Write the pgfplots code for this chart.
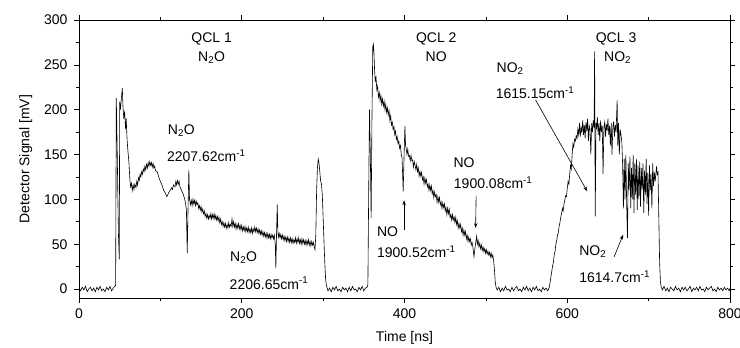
\documentclass[border=0pt]{standalone}
\usepackage{pgfplots}
\pgfplotsset{compat=1.18}
\usepackage{fontspec}
\setmainfont{Liberation Sans}
\usetikzlibrary{arrows.meta}
\begin{document}
\begin{tikzpicture}[font=\fontsize{14}{16}\selectfont]
\begin{axis}[name=ax,
  width=651pt, height=278pt, scale only axis,
  xmin=0, xmax=800, ymin=-10, ymax=300,
  xtick={0,200,400,600,800}, minor xtick={100,300,500,700},
  ytick={0,50,100,150,200,250,300}, minor ytick={25,75,125,175,225,275},
  tick align=outside, major tick length=5pt, minor tick length=3pt,
  tick style={black, line width=0.6pt},
  axis line style={line width=0.7pt},
  /pgf/number format/assume math mode=true,
  scaled ticks=false,
  tick label style={font=\fontsize{14}{16}\selectfont},
  xticklabel style={yshift=-2pt},
  yticklabel style={xshift=-3pt},
  xlabel={Time [ns]}, ylabel={Detector Signal [mV]},
  xlabel style={yshift=-6pt},
  ylabel style={yshift=5pt},
  clip=true,
]
\addplot[black, line width=0.6pt] coordinates {
(0,1)(2,-2)(4,2)(6,-1)(8,3)(10,-3)(12,0)(14,2)(16,-2)(18,1)(20,-3)(22,2)(24,-1)(26,3)(28,-2)(30,0)(32,-3)(34,2)(36,-1)(38,3)(40,-2)(42,1)(44,3)
(45,4)(45.4,100)(45.8,213)(46.5,180)(47.5,120)(48.5,60)(49.5,33)(50,209)(51,200)(52,212)(53.2,224)(54,205)(55,190)(56,198)(57.3,178)(58,190)(59,168)(60,155)(61.4,141)(62.5,122)(63.5,114)(64.5,118)(65.5,110)(66.5,116)(67.6,111)(68.5,117)(70,113)(71,120)(72,116)(73,124)(74,121)(75,128)(76,125)(77,131)(78,128)(79,134)(80,131)(81,137)(82,133)(83,139)(84,135)(85,141)(86,137)(87,142)(88,138)(89,141)(90,136)(91,140)(92,135)(93,137)(94,132)(96,131)(98,125)(100,120)(102,116)(104,110)(106,107)(108,103)(110,107)(112,110)(114,113)(115,111)(116,116)(118,114)(119,120)(120,116)(121,121)(122,117)(123,120)(124,114)(126,110)(128,106)(130,100)(131,95)(132,88)(133,40)(134,90)(135,133)(135.8,100)
(137,94)(138,99)(139,93)(140,100)(141,95)(142,99)(143,93)(144,98)(145,94)(146,96)(147,90)(148,93)(149,88)(150,92)(151,86)(152,89)(153,84)(154,87)(155,81)(156,84)(157,79)(158,83)(159,78)(160,82)(161,79)(162,84)(163,78)(164,83)(165,79)(166,84)(167,78)(168,82)(169,77)(170,81)(171,76)(172,80)(173,74)(174,78)(175,72)(176,75)(177,70)(178,74)(179,69)(180,73)(181,68)(182,72)(183,68)(184,74)(185,69)(186,72)(187,70)(188,78)(189,70)(190,75)(191,69)(192,73)(193,67)(194,72)(195,68)(196,73)(197,67)(198,71)(199,66)(200,71)(201,65)(202,69)(203,65)(204,70)(205,64)(206,68)(207,64)(208,69)(209,63)(210,67)(211,63)(212,68)(213,62)(214,67)(215,64)(216,69)(217,64)(218,68)(219,63)(220,67)(221,62)(222,66)(223,61)(224,65)(225,60)(226,64)(227,59)(228,63)(229,58)(230,62)(231,57)(232,62)(233,57)(234,61)(235,56)(236,61)(237,57)(238,60)(239,56)(240,60)(241.2,50)(241.9,23)(242.7,60)(243.6,94)(244.4,64)(245,58)(246,62)(247,57)(248,61)(249,56)(250,60)(251,55)(252,59)(253,54)(254,58)(255,53)(256,58)(257,53)(258,57)(259,52)(260,57)(261,52)(262,56)(263,51)(264,55)(265,52)(266,57)(267,51)(268,56)(269,52)(270,57)(271,51)(272,55)(273,50)(274,56)(275,51)(276,55)(277,50)(278,54)(279,49)(280,54)(281,50)(282,55)(283,49)(284,53)(285,48)(286,53)(287,49)(288,52)(289,47)(290,44)
(291,60)(292,110)(293,135)(294,145)(295,140)(296,130)(297,120)(298,117)(299,105)(300,80)(301,55)(302,30)(303,12)(304,4)
(306,-2)(308,1)(310,-3)(312,2)(314,-1)(316,3)(318,-2)(320,0)(322,-3)(324,2)(326,-1)(328,1)(330,-3)(332,2)(334,-2)(336,3)(338,-1)(340,0)(342,-3)(344,2)(346,-1)(348,3)(350,-2)(352,1)(354,2)
(355,5)(356,110)(357,200)(358,150)(359,79)(360,190)(361,270)(361.8,273)(362.5,262)(363.2,245)(364,232)(365,236)(366,222)(367,226)(368,214)(369,219)(370,210)(371,216)(372,206)(373,212)(374,204)(375,209)(376,200)(377,206)(378,197)(379,202)(380,194)(381,199)(382,188)(383,193)(384,183)(385,186)(386,178)(387,181)(388,172)(389,176)(390,167)(391,170)(392,162)(393,165)(394,157)(395,160)(396,150)(397,146)(398.4,109)(399.5,150)(400.5,182)(401.3,160)
(402,157)(403,150)(404,156)(405,148)(406,149)(407,143)(408,149)(409,143)(410,144)(411,136)(412,142)(413,138)(414,133)(415,139)(416,131)(417,135)(418,126)(419,131)(420,126)(421,130)(422,122)(423,125)(424,117)(425,124)(426,118)(427,122)(428,114)(429,117)(430,110)(431,116)(432,110)(433,115)(434,106)(435,110)(436,102)(437,108)(438,103)(439,105)(440,97)(441,103)(442,97)(443,102)(444,94)(445,97)(446,90)(447,96)(448,91)(449,95)(450,87)(451,91)(452,83)(453,90)(454,84)(455,89)(456,80)(457,83)(458,77)(459,83)(460,77)(461,80)(462,74)(463,80)(464,72)(465,76)(466,68)(467,73)(468,68)(469,72)(470,64)(471,68)(472,60)(473,66)(474,60)(475,64)(476,56)(477,60)(478,53)(479,58)(480,53)(481,56)(482,49)(483,52)(484,47)
(485.4,36)(486.5,45)(487.5,52)(488.7,59)(489.5,50)(490.5,54)(491.5,47)(492.5,51)(493.5,45)(494.5,49)(495.5,43)(496.5,47)(497.5,42)(498.5,45)(499.5,40)(500.5,44)(501.5,39)(502.5,42)(503.5,38)(504.5,41)(505.5,36)(506.5,40)(507.5,35)(508.5,38)(509.5,32)(510.5,22)(511.5,8)(512.5,2)
(514,-1)(516,2)(518,-3)(520,1)(522,-2)(524,3)(526,-1)(528,0)(530,-3)(532,2)(534,-2)(536,1)(538,3)(540,-2)(542,0)(544,-3)(546,2)(548,-1)(550,3)(552,-2)(554,1)(556,-3)(558,2)(560,-1)(562,3)(564,-2)(566,0)(568,-3)(570,2)(572,-1)(574,1)(576,-2)(578,2)
(579,8)(580,14)(581,20)(582,26)(583,30)(584,38)(585,42)(586,50)(587,54)(588,60)(589,63)(590,70)(591,74)(592,80)(593,84)(594,90)(595,87)(596,95)(597,99)(598,104)(599,103)(600,112)(601,120)(602,117)(603,128)(604,138)(605,134)(606,150)(607,162)(608,158)(609,167)(610,165)(611,171)
(612,168)(613,178)(614,172)(615,185)(616,170)(617,180)(618,175)(619,188)(620,172)(621,183)(622,168)(623,186)(624,176)(625,190)(626,165)(627,182)(628,178)(629,150)(630,185)(631,175)(632,188)(633,180)(633.6,265)(634.4,81)(635.3,185)(636,178)(637,192)(638,172)(639,185)(640,165)(641,188)(642,175)(643,182)(644,128)(645,180)(646,186)(647,170)(648,184)(649,176)(650,190)(651,172)(652,182)(653,160)(654,185)(655,150)(656,180)(657,187)(658,170)(659,183)(660,175)(661.3,211)(662,160)(663,185)(664,150)(665,178)(666,172)(667,165)(668,140)
(669,90)(670,145)(671,100)(672,150)(673,95)(674,57)(675,140)(676,110)(677,148)(678,90)(679,135)(680,100)(681,150)(682,85)(683,140)(684,105)(685,145)(686,88)(687,138)(688,100)(689,142)(690,92)(691,135)(692,110)(693,140)(694,85)(695,132)(696,105)(697,145)(698,95)(699,130)(700,82)(701,138)(702,110)(703,128)(704,90)(705,140)(706,115)(707,130)(708,120)(709.8,137)(710.5,128)(711.5,130)(712.5,80)(713.5,30)(714.5,8)(715.5,2)
(717,-1)(719,3)(721,-2)(723,1)(725,-3)(727,2)(729,0)(731,-2)(733,3)(735,-1)(737,1)(739,-3)(741,2)(743,-1)(745,2)(747,-2)(749,0)(751,3)(753,-3)(755,1)(757,-1)(759,2)(761,-2)(763,3)(765,-1)(767,0)(769,-3)(771,2)(773,-1)(775,1)(777,3)(779,-2)(781,0)(783,-3)(785,2)(787,-1)(789,1)(791,-2)(793,2)(795,-1)(797,1)(799,-2)(800,1)
};
% headings
\node[anchor=base, inner sep=0pt] at (axis cs:163,274.6) {QCL 1};
\node[anchor=base, inner sep=0pt] at (axis cs:163,254) {N\textsubscript{2}O};
\node[anchor=base, inner sep=0pt] at (axis cs:439,274.6) {QCL 2};
\node[anchor=base, inner sep=0pt] at (axis cs:439,254) {NO};
\node[anchor=base, inner sep=0pt] at (axis cs:660,274.6) {QCL 3};
\node[anchor=base, inner sep=0pt] at (axis cs:662,254) {NO\textsubscript{2}};
% line labels
\node[anchor=base west, inner sep=0pt] at (axis cs:109,172) {N\textsubscript{2}O};
\node[anchor=base west, inner sep=0pt] at (axis cs:108,142.5) {2207.62cm\textsuperscript{-1}};
\node[anchor=base west, inner sep=0pt] at (axis cs:185.5,30.8) {N\textsubscript{2}O};
\node[anchor=base west, inner sep=0pt] at (axis cs:185,0) {2206.65cm\textsuperscript{-1}};
\node[anchor=base west, inner sep=0pt] at (axis cs:366,58.7) {NO};
\node[anchor=base west, inner sep=0pt] at (axis cs:366,35.3) {1900.52cm\textsuperscript{-1}};
\node[anchor=base west, inner sep=0pt] at (axis cs:460,135.8) {NO};
\node[anchor=base west, inner sep=0pt] at (axis cs:460.5,111.7) {1900.08cm\textsuperscript{-1}};
\node[anchor=base west, inner sep=0pt] at (axis cs:513,241.9) {NO\textsubscript{2}};
\node[anchor=base west, inner sep=0pt] at (axis cs:512,212.5) {1615.15cm\textsuperscript{-1}};
\node[anchor=base west, inner sep=0pt] at (axis cs:614.6,37.2) {NO\textsubscript{2}};
\node[anchor=base west, inner sep=0pt] at (axis cs:614.6,7.4) {1614.7cm\textsuperscript{-1}};
% arrows
\draw[-{Stealth[length=5pt,width=3.5pt]}, line width=0.6pt] (axis cs:399.5,66) -- (axis cs:399.5,99);
\draw[-{Stealth[length=5pt,width=3.5pt]}, line width=0.6pt] (axis cs:488,104) -- (axis cs:487.4,68);
\draw[-{Stealth[length=5pt,width=3.5pt]}, line width=0.6pt] (axis cs:561,211) -- (axis cs:624.5,109);
\draw[-{Stealth[length=5pt,width=3.5pt]}, line width=0.6pt] (axis cs:657.6,36) -- (axis cs:668.7,60.6);
\end{axis}
\pgfresetboundingbox
\path[use as bounding box] ([shift={(-79pt,-49pt)}]ax.south west) rectangle ([shift={(10pt,20pt)}]ax.north east);
\end{tikzpicture}
\end{document}
